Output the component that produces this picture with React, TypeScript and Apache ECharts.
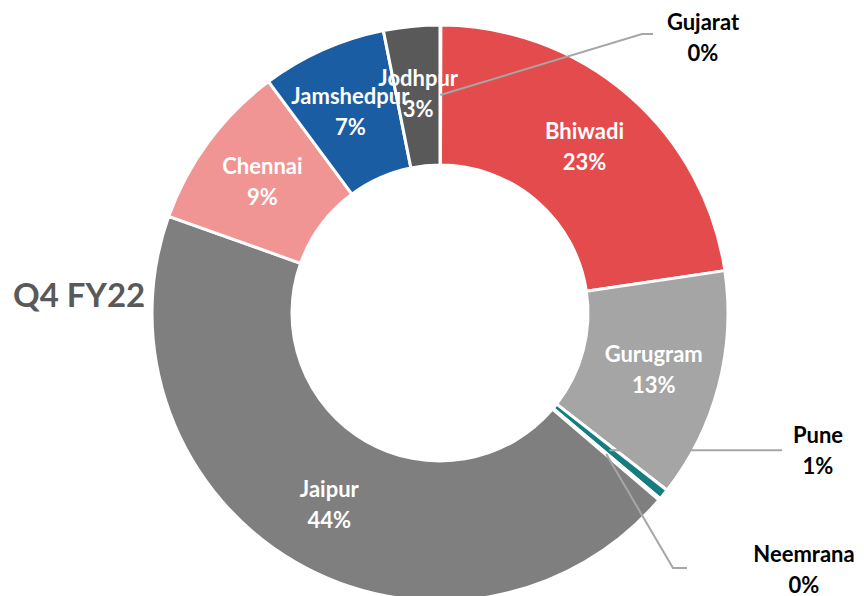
import React, { useEffect, useRef } from "react";
import * as echarts from "echarts";

// Share of each location (percent), clockwise from 12 o'clock
const locations = ["Gujarat", "Bhiwadi", "Gurugram", "Pune", "Neemrana", "Jaipur", "Chennai", "Jamshedpur", "Jodhpur"];
const shares = [0.05, 22.6, 12.9, 0.6, 0.1, 44.2, 9.4, 7.0, 3.15];
const colors = ["#ED7D31", "#E34B4C", "#A5A5A5", "#157C80", "#F4B183", "#7F7F7F", "#F09594", "#1B5DA3", "#595959"];
const outsideNames = ["Gujarat", "Pune", "Neemrana"];
const chartTitle = "Q4 FY22";

// Layout of the outside labels (label centre, optional elbow, line end)
const outsideLayout: Record<string, { lx: number; ly: number; elbow?: number[]; end: number[] }> = {
  Gujarat: { lx: 703, ly: 37, elbow: [642, 34], end: [653, 34] },
  Pune: { lx: 818, ly: 450, end: [782, 450] },
  Neemrana: { lx: 804, ly: 569, elbow: [673, 568], end: [687, 568] },
};

const CX = 440;
const CY = 313;
const R_IN = 148;
const R_OUT = 288;
const FONT = "Lato, 'Open Sans', sans-serif";

export default function App() {
  const ref = useRef<HTMLDivElement>(null);
  useEffect(() => {
    if (!ref.current) return;
    const chart = echarts.init(ref.current, undefined, { renderer: "svg" });
    const total = shares.reduce((a, b) => a + b, 0);
    const midAngles: number[] = [];
    let acc = 0;
    shares.forEach((v) => {
      midAngles.push(((acc + v / 2) / total) * Math.PI * 2);
      acc += v;
    });

    const data = locations.map((name, i) => {
      const outside = outsideNames.includes(name);
      return {
        name,
        value: shares[i],
        itemStyle: { color: colors[i] },
        label: outside
          ? { position: "outside", color: "#000000" }
          : { position: "inside", color: "#FFFFFF" },
        labelLine: { show: false },
      };
    });

    const rm = (R_IN + R_OUT) / 2;
    const leaderLines = outsideNames.map((name) => {
      const i = locations.indexOf(name);
      const cfg = outsideLayout[name];
      const a = midAngles[i];
      const start = [CX + rm * Math.sin(a), CY - rm * Math.cos(a)];
      const pts = cfg.elbow ? [start, cfg.elbow, cfg.end] : [start, [cfg.end[0], start[1]]];
      return {
        type: "polyline",
        z: 100,
        shape: { points: pts },
        style: { stroke: "#A6A6A6", lineWidth: 2, fill: "none" },
        silent: true,
      };
    });

    chart.setOption({
      animation: false,
      graphic: [
        {
          type: "text",
          x: 13,
          y: 294,
          z: 100,
          style: {
            text: chartTitle,
            font: `bold 33px ${FONT}`,
            fill: "#595959",
            verticalAlign: "middle",
            align: "left",
          },
        },
        ...leaderLines,
      ],
      series: [
        {
          type: "pie",
          center: [CX, CY],
          radius: [R_IN, R_OUT],
          startAngle: 90,
          clockwise: true,
          avoidLabelOverlap: false,
          minShowLabelAngle: 0,
          itemStyle: { borderColor: "#FFFFFF", borderWidth: 3 },
          label: {
            formatter: (p: any) => `${p.name}\n${Math.round(p.percent)}%`,
            fontFamily: FONT,
            fontWeight: "bold",
            fontSize: 22,
            lineHeight: 31,
            align: "center",
          },
          labelLayout: (params: any) => {
            const name = locations[params.dataIndex];
            const cfg = outsideLayout[name];
            if (!cfg) return {};
            return {
              x: cfg.lx,
              y: cfg.ly,
              align: "center",
              verticalAlign: "middle",
            };
          },
          data,
        },
      ],
    });
    return () => chart.dispose();
  }, []);
  return (
    <div
      ref={ref}
      style={{ position: "fixed", left: 0, top: 0, width: 864, height: 596, background: "#FFFFFF" }}
    />
  );
}
